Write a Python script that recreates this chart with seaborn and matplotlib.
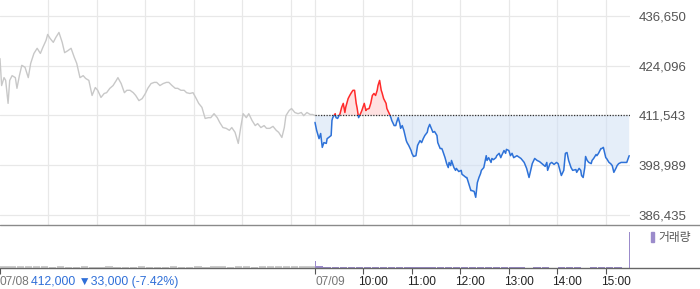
import matplotlib
matplotlib.use("Agg")
import matplotlib.pyplot as plt
import seaborn as sns
import numpy as np
from matplotlib.patches import Rectangle, Patch
from matplotlib.lines import Line2D
from matplotlib.transforms import ScaledTranslation

# ---------------- data ----------------
# time axis: trading minutes since 07/08 09:00 (07/09 09:00 = 390)
day1_t = [0,2,5,7,10,12,15,19,21,24,27,31,35,38,42,46,50,53,57,59,62,66,69,73,77,80,84,88,92,95,
          99,103,106,110,114,118,121,125,129,132,136,140,144,146,150,154,157,161,165,168,172,176,180,183,
          187,191,194,198,202,206,209,213,217,220,224,228,231,235,239,243,246,250,254,258,261,265,269,272,
          276,280,284,287,291,295,298,301,305,308,312,316,319,323,327,330,334,338,342,345,349,352,354,358,
          361,365,369,373,376,380,384,387,390]
day1_p = [425900,419100,421100,420400,414600,420400,421600,421100,418400,421600,424200,423700,421100,424700,
          427200,428500,427200,428700,430500,432000,431000,430000,431200,432500,430000,427400,427900,428500,
          426200,424700,421100,421600,420900,420400,416600,418600,417900,416100,417100,417300,418400,419100,
          420400,421100,419600,417300,417900,417900,417300,416600,415300,415800,417100,418400,419600,419900,
          419900,419100,419600,419900,419900,419100,418400,418400,417900,417900,417300,417100,417300,415800,
          414600,413600,410800,411000,411000,412000,411000,409800,408500,408300,407800,408500,407300,404500,
          408500,412000,411000,412000,410300,409000,409500,408500,409000,408300,408300,408800,407800,407300,
          406000,408500,411500,412800,413300,412300,412000,412300,411500,412300,411800,411800,411543]

day2_t = [390,392,395,397,399,401,404,405,407,410,411,412,415,416,418,421,423,425,427,428,431,433,435,437,
          439,441,442,444,447,448,451,453,454,457,459,461,463,465,467,468,470,472,473,475,478,479,482,484,
          485,488,490,491,493,495,496,498,500,503,504,506,509,510,512,515,517,520,522,524,526,529,530,532,
          535,536,538,541,542,545,547,548,551,553,555,556,558,559,562,564,565,568,571,572,574,577,578,581,
          583,584,587,589,591,593,595,596,599,602,603,605,608,609,611,614,615,618,620,621,624,626,627,630,
          632,634,636,640,645,649,652,655,657,659,662,665,668,671,675,677,678,681,683,686,689,691,694,695,
          698,700,702,704,707,709,713,714,717,719,720,722,724,725,727,729,732,733,735,738,739,741,744,745,
          747,750,751,754,756,758,760,763,764,766,769,772,776,779]
day2_p = [409800,407800,405700,407000,403500,404700,404500,405700,406000,406500,410300,411000,412000,411000,
          410800,412000,413600,414600,412300,413600,415800,416600,417300,417900,417900,414600,413600,411000,
          412300,412800,414600,412800,413100,413300,414600,416600,417100,416600,417900,419100,420400,417900,
          417300,415800,414600,413300,412000,411000,410300,409000,409000,409800,411000,409500,408300,409000,
          407800,405200,404700,404000,402700,402000,401200,401400,404000,405200,404700,405700,406500,407300,
          408300,409300,407800,407300,407500,406500,404700,403200,403200,402700,400900,399400,398400,399700,
          398900,400200,398400,397700,398200,397400,397700,396700,396400,395900,395900,393900,392600,392600,
          392400,390900,394600,395900,396900,397700,398400,401400,400200,400900,399700,400700,400400,400900,
          401400,402000,400900,401400,402700,402000,403000,402700,401400,402000,400900,401400,400700,399700,
          398200,395900,397700,399400,400700,400200,399900,399400,398700,399700,397700,399400,399700,399200,
          399700,399400,397200,396400,397700,402000,402200,400200,398400,397700,397900,397200,398200,397700,
          396400,395900,398400,401200,400200,399700,399400,400200,400700,401700,401400,402000,403200,403200,
          403500,400900,400700,399700,399400,398900,397200,398400,398900,399400,399700,399700,399700,401400]

prev_close = 411543
ytick_vals = [386435, 398989, 411543, 424096, 436650]
grid_x = [60, 120, 180, 240, 300, 360, 390, 450, 510, 570, 630, 690, 750]
xtick_pos = [0, 390, 450, 510, 570, 630, 690, 750]
xtick_labels = ["07/08", "07/09", "10:00", "11:00", "12:00", "13:00", "14:00", "15:00"]

# volume per 10-minute bin (relative units)
vol1 = [5,4,4,4,4,4,3,4,3,3,4,3,3,4,3,3,3,4,3,3,3,4,3,3,4,3,4,4,3,4,4,3,4,4,4,4,4,4,4]
vol2 = [4,3,3,2,3,2,3,2,2,3,2,2,2,2,2,2,3,2,2,2,2,2,2,2,2,2,1,2,2,1,2,2,2,1,2,3,3,3,0]
open_auction_t = 390.6
open_auction_vol = 16
close_auction_t = 779
close_auction_vol = 84

summary_text = "412,000 \u25bc33,000 (-7.42%)"
legend_label = "거래량"

# ---------------- style ----------------
sns.set_theme(style="white")
plt.rcParams["font.family"] = ["Liberation Sans", "DejaVu Sans", "Noto Sans CJK KR"]

W, H = 700, 289
fig = plt.figure(figsize=(W / 100, H / 100), dpi=100)
ax = fig.add_axes([0, 64 / H, 630 / W, 225 / H])
axv = fig.add_axes([0, 21 / H, 630 / W, 43 / H])

GRAY_LINE = "#c8c8c8"
RED = "#ff2b2b"
BLUE = "#2e72d8"
PURPLE = "#9b8bcb"

# ---------------- price panel ----------------
ax.fill_between(day2_t, day2_p, prev_close, where=np.array(day2_p) >= prev_close,
                interpolate=True, color="#ffc4c4", alpha=0.5, lw=0, zorder=1)
ax.fill_between(day2_t, day2_p, prev_close, where=np.array(day2_p) <= prev_close,
                interpolate=True, color="#d0e0f5", alpha=0.55, lw=0, zorder=1)

sns.lineplot(x=day1_t, y=day1_p, ax=ax, color=GRAY_LINE, lw=1.0, estimator=None, zorder=3)

sns.lineplot(x=day2_t, y=day2_p, ax=ax, color=BLUE, lw=1.1, estimator=None, zorder=3)
ax.lines[-1].set_clip_path(Rectangle((380, 300000), 420, prev_close - 300000, transform=ax.transData))
sns.lineplot(x=day2_t, y=day2_p, ax=ax, color=RED, lw=1.1, estimator=None, zorder=3)
ax.lines[-1].set_clip_path(Rectangle((380, prev_close), 420, 200000, transform=ax.transData))

ax.hlines(prev_close, 390, 780, colors="#333333", linestyles=(0, (1, 1.2)), lw=0.9, zorder=4)

ax.set_xlim(0, 780)
ax.set_ylim(383912, 440687)
ax.set_xticks(grid_x)
ax.set_xticklabels([])
ax.set_yticks(ytick_vals)
ax.set_yticklabels([f"{v:,}" for v in ytick_vals])
ax.yaxis.tick_right()
ax.tick_params(axis="both", length=0)
ax.tick_params(axis="y", pad=6, labelsize=9.5, labelcolor="#555555")
ax.grid(True, color="#e8e8e8", lw=0.9)
ax.set_axisbelow(True)
for s in ax.spines.values():
    s.set_visible(False)
ax.set_xlabel("")
ax.set_ylabel("")

# ---------------- volume panel ----------------
bins1 = [5 + 10 * i for i in range(len(vol1))]
bins2 = [395 + 10 * i for i in range(len(vol2))]
axv.bar(bins1, vol1, width=9, color="#cccccc", lw=0)
axv.bar(bins2, vol2, width=9, color=PURPLE, lw=0)
axv.bar([open_auction_t, close_auction_t], [open_auction_vol, close_auction_vol],
        width=1.4, color=PURPLE, lw=0)
axv.set_xlim(0, 780)
axv.set_ylim(0, 100)
axv.set_yticks([])
axv.set_xticks(xtick_pos)
axv.set_xticklabels(xtick_labels)
axv.tick_params(axis="x", direction="out", length=4, width=0.8, color="#555555",
                pad=2, labelsize=8.6, bottom=True)
off = ScaledTranslation(-5 / 100, 0, fig.dpi_scale_trans)
for i, lab in enumerate(axv.get_xticklabels()):
    lab.set_ha("left")
    if xtick_labels[i].startswith("07/"):
        lab.set_color("#777777")
    else:
        lab.set_color("#222222")
        lab.set_transform(lab.get_transform() + off)
for s in axv.spines.values():
    s.set_visible(False)
axv.set_xlabel("")
axv.set_ylabel("")

# separator lines
fig.add_artist(Line2D([0, 1], [1 - 225 / H] * 2, transform=fig.transFigure, color="#8a8a8a", lw=1.0))
fig.add_artist(Line2D([0, 1], [1 - 268 / H] * 2, transform=fig.transFigure, color="#666666", lw=1.0))

fig.text(31 / W, 1 - 282 / H, summary_text, color="#2f6fd8", fontsize=8.8, va="center", ha="left")

axv.legend(handles=[Patch(color=PURPLE)], labels=[legend_label], loc="center left",
           bbox_to_anchor=(651 / W, 1 - 238 / H), bbox_transform=fig.transFigure,
           frameon=False, handlelength=0.25, handleheight=0.9, handletextpad=0.35,
           borderpad=0, borderaxespad=0, fontsize=8.5, labelcolor="#555555")

fig.savefig("out.png", dpi=100)
